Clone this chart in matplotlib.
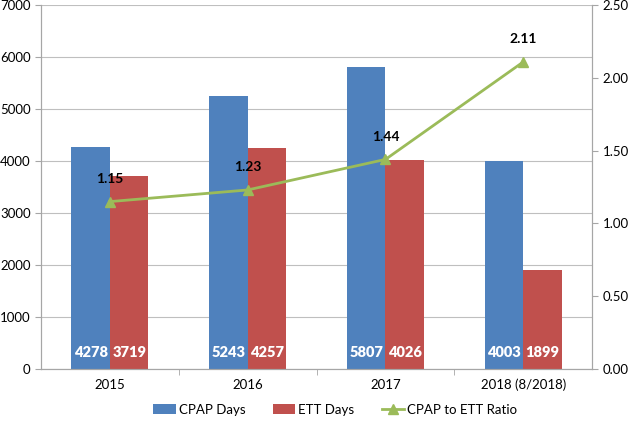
import numpy as np
import matplotlib.pyplot as plt

categories = ['2015', '2016', '2017', '2018 (8/2018)']
cpap_days = [4278, 5243, 5807, 4003]
ett_days = [3719, 4257, 4026, 1899]
ratio = [1.15, 1.23, 1.44, 2.11]

plt.rcParams['font.family'] = ['Lato', 'DejaVu Sans']

fig = plt.figure(figsize=(6.3, 4.29), dpi=100)
ax = fig.add_axes([0.065, 0.14, 0.875, 0.848])
ax2 = ax.twinx()

x = np.arange(len(categories))
w = 0.28
grey = '#A6A6A6'

ax.bar(x - w / 2, cpap_days, w, color='#4F81BD', label='CPAP Days', zorder=2)
ax.bar(x + w / 2, ett_days, w, color='#C0504D', label='ETT Days', zorder=2)

# white value labels near the bottom of each bar
for i in range(len(x)):
    ax.text(x[i] - w / 2, 310, str(cpap_days[i]), color='white', fontweight='heavy',
            ha='center', va='center', fontsize=10.5, zorder=3)
    ax.text(x[i] + w / 2, 310, str(ett_days[i]), color='white', fontweight='heavy',
            ha='center', va='center', fontsize=10.5, zorder=3)

ax.set_xlim(-0.5, len(categories) - 0.5)
ax.set_ylim(0, 7000)
ax.set_yticks(range(0, 7001, 1000))
ax.yaxis.grid(True, color='#BFBFBF', linewidth=0.8, zorder=0)
ax.set_axisbelow(True)
ax.set_xticks(x)
ax.set_xticklabels(categories, fontsize=9.5)
ax.set_xticks(np.arange(0.5, len(categories) - 1, 1), minor=True)
ax.tick_params(axis='x', which='major', length=0, pad=7)
ax.tick_params(axis='x', which='minor', length=4, color=grey)
ax.tick_params(axis='y', labelsize=9.5, length=4, color=grey)

line, = ax2.plot(x, ratio, color='#9BBB59', linewidth=2, marker='^', markersize=7,
                 label='CPAP to ETT Ratio', zorder=4)
for i in range(len(x)):
    ax2.annotate(f'{ratio[i]:.2f}', (x[i], ratio[i]), xytext=(0, 12), textcoords='offset points',
                 ha='center', va='bottom', fontweight='bold', fontsize=10, color='black')
ax2.set_ylim(0, 2.5)
ax2.set_yticks(np.arange(0, 2.51, 0.5))
ax2.set_yticklabels([f'{v:.2f}' for v in np.arange(0, 2.51, 0.5)])
ax2.tick_params(axis='y', labelsize=9.5, length=4, color=grey)

for a in (ax, ax2):
    a.spines['top'].set_visible(False)
    for s in ('left', 'right', 'bottom'):
        a.spines[s].set_color(grey)

h1, l1 = ax.get_legend_handles_labels()
h2, l2 = ax2.get_legend_handles_labels()
fig.legend(h1 + h2, l1 + l2, loc='center', bbox_to_anchor=(0.532, 0.045), ncol=3,
           frameon=False, fontsize=9.5, handlelength=1.7, handletextpad=0.2,
           columnspacing=2.1)

fig.savefig('out.png', dpi=100)
